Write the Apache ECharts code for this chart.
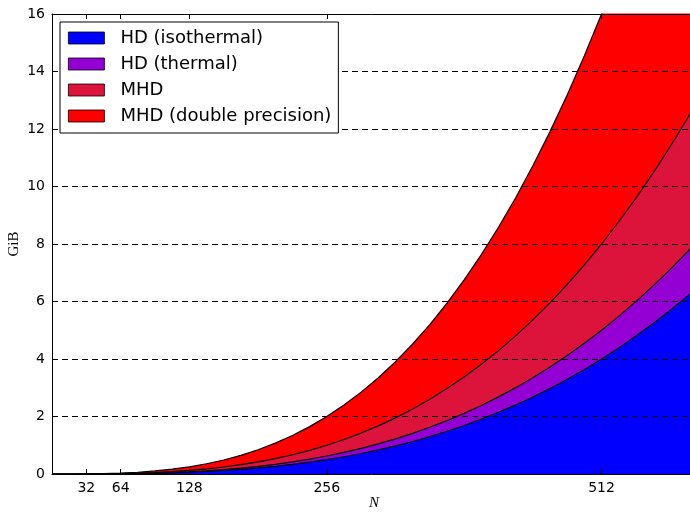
<!DOCTYPE html>
<html>
<head>
<meta charset="utf-8">
<title>Memory requirements vs. resolution</title>
<script src="https://cdn.jsdelivr.net/npm/echarts@6/dist/echarts.min.js"></script>
<style>
  html, body { margin: 0; padding: 0; background: #fff; }
  #chart { width: 690px; height: 513px; }
</style>
</head>
<body>
<div id="chart"></div>
<script>
// Grid resolution N (cells per side)
const resolution = [0, 16, 32, 48, 64, 80, 96, 112, 128, 144, 160, 176, 192, 208, 224, 240, 256,
  272, 288, 304, 320, 336, 352, 368, 384, 400, 416, 432, 448, 464, 480, 496, 512,
  528, 544, 560, 576, 592, 608];

// Memory in GiB for each solver configuration
const hdIsothermal = [0, 0.00012, 0.00098, 0.0033, 0.0078, 0.0153, 0.0264, 0.0419, 0.0625,
  0.0890, 0.1221, 0.1625, 0.2109, 0.2682, 0.3350, 0.4120, 0.5,
  0.5997, 0.7119, 0.8373, 0.9766, 1.1305, 1.2998, 1.4852, 1.6875,
  1.9073, 2.1455, 2.4027, 2.6797, 2.9772, 3.2959, 3.6366, 4.0,
  4.3868, 4.7979, 5.2338, 5.6953, 6.1832, 6.6982];

const hdThermal = [0, 0.00015, 0.00122, 0.0041, 0.0098, 0.0191, 0.0330, 0.0523, 0.0781,
  0.1112, 0.1526, 0.2031, 0.2637, 0.3352, 0.4187, 0.5150, 0.625,
  0.7497, 0.8899, 1.0466, 1.2207, 1.4131, 1.6248, 1.8565, 2.1094,
  2.3842, 2.6819, 3.0034, 3.3496, 3.7215, 4.1199, 4.5457, 5.0,
  5.4836, 5.9973, 6.5422, 7.1191, 7.7290, 8.3728];

const mhd = [0, 0.00024, 0.00195, 0.0066, 0.0156, 0.0305, 0.0527, 0.0837, 0.125,
  0.1780, 0.2441, 0.3250, 0.4219, 0.5364, 0.6699, 0.8240, 1.0,
  1.1995, 1.4238, 1.6746, 1.9531, 2.2610, 2.5996, 2.9705, 3.375,
  3.8147, 4.2910, 4.8054, 5.3594, 5.9544, 6.5918, 7.2732, 8.0,
  8.7737, 9.5957, 10.4675, 11.3906, 12.3665, 13.3965];

const mhdDouble = [0, 0.00049, 0.0039, 0.0132, 0.03125, 0.0610, 0.1055, 0.1675, 0.25,
  0.3560, 0.4883, 0.6499, 0.8438, 1.0728, 1.3398, 1.6480, 2.0,
  2.3989, 2.8477, 3.3491, 3.9063, 4.5220, 5.1992, 5.9409, 6.75,
  7.6294, 8.5820, 9.6108, 10.7188, 11.9087, 13.1836, 14.5464, 16.0,
  17.5474, 19.1914, 20.9351, 22.7813, 24.7329, 26.7930];

const xTicks = [32, 64, 128, 256, 512];
const yTicks = [0, 2, 4, 6, 8, 10, 12, 14, 16];

const seriesNames = ['HD (isothermal)', 'HD (thermal)', 'MHD', 'MHD (double precision)'];
const seriesValues = [hdIsothermal, hdThermal, mhd, mhdDouble];
const seriesColors = ['#0000ff', '#9400d3', '#dc143c', '#ff0000'];

const chart = echarts.init(document.getElementById('chart'), null, { renderer: 'canvas' });

function pairs(values) {
  return resolution.map((n, i) => [n, values[i]]);
}

// Largest footprint first so the smaller ones are painted over it
const series = [];
for (let i = seriesValues.length - 1; i >= 0; i--) {
  series.push({
    name: seriesNames[i],
    type: 'line',
    data: pairs(seriesValues[i]),
    showSymbol: false,
    symbol: 'none',
    smooth: false,
    clip: true,
    color: seriesColors[i],
    itemStyle: { color: seriesColors[i] },
    lineStyle: { color: '#000', width: 1.2 },
    areaStyle: { color: seriesColors[i], opacity: 1, origin: 'start' },
    emphasis: { disabled: true },
    z: 2
  });
}

const tickFont = { fontFamily: 'DejaVu Sans', fontSize: 14, color: '#000' };

chart.setOption({
  animation: false,
  backgroundColor: '#fff',
  grid: {
    left: 52, top: 14, width: 644, height: 460,
    containLabel: false,
    outerBoundsMode: 'none'
  },
  legend: {
    data: seriesNames,
    orient: 'vertical',
    left: 60,
    top: 22,
    icon: 'rect',
    itemWidth: 36,
    itemHeight: 12,
    itemGap: 8,
    padding: [7, 7, 8, 8],
    backgroundColor: '#fff',
    borderColor: '#000',
    borderWidth: 1,
    borderRadius: 0,
    z: 10,
    selectedMode: false,
    itemStyle: { borderColor: '#000', borderWidth: 0.8 },
    lineStyle: { width: 0 },
    textStyle: { fontFamily: 'DejaVu Sans', fontSize: 18, lineHeight: 18, color: '#000', padding: [0, 0, 0, 11] }
  },
  xAxis: [
    {
      type: 'value',
      min: 0,
      max: 600,
      position: 'bottom',
      name: 'N',
      nameLocation: 'middle',
      nameGap: 22,
      nameMoveOverlap: false,
      nameTextStyle: { fontFamily: 'Liberation Serif', fontStyle: 'italic', fontSize: 15, color: '#000' },
      axisLine: { show: true, lineStyle: { color: '#000', width: 1 } },
      axisTick: { show: true, inside: true, length: 5, customValues: xTicks, lineStyle: { color: '#000' } },
      axisLabel: { show: true, customValues: xTicks, margin: 7, ...tickFont },
      splitLine: { show: false },
      z: 6
    },
    {
      type: 'value',
      min: 0,
      max: 600,
      position: 'top',
      axisLine: { show: true, onZero: false, lineStyle: { color: '#000', width: 1 } },
      axisTick: { show: true, inside: true, length: 5, customValues: xTicks, lineStyle: { color: '#000' } },
      axisLabel: { show: false },
      splitLine: { show: false },
      z: 6
    }
  ],
  yAxis: {
    type: 'value',
    min: 0,
    max: 16,
    interval: 2,
    name: 'GiB',
    nameLocation: 'middle',
    nameGap: 30,
    nameMoveOverlap: false,
    nameRotate: 90,
    nameTextStyle: { fontFamily: 'Liberation Serif', fontSize: 15, color: '#000' },
    axisLine: { show: true, lineStyle: { color: '#000', width: 1 } },
    axisTick: { show: true, inside: true, length: 5, customValues: yTicks, lineStyle: { color: '#000' } },
    axisLabel: { margin: 7, ...tickFont },
    splitLine: {
      show: true,
      showMinLine: false,
      showMaxLine: false,
      lineStyle: { color: '#000', width: 1, type: [6, 4] }
    },
    z: 5
  },
  series: series
});
</script>
</body>
</html>
